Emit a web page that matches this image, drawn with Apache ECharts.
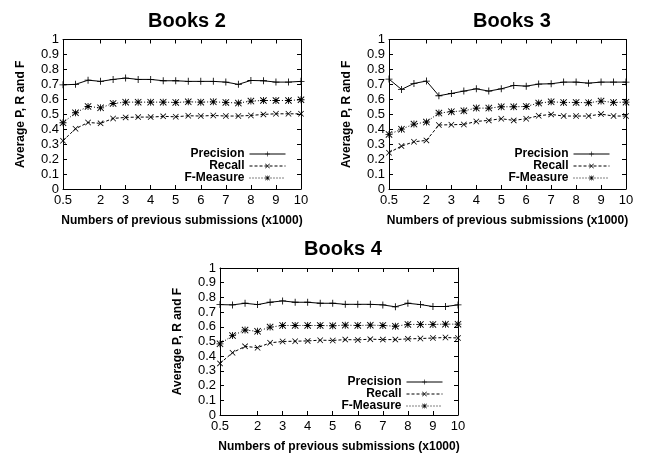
<!DOCTYPE html>
<html><head><meta charset="utf-8">
<script src="https://cdn.jsdelivr.net/npm/echarts@6/dist/echarts.min.js"></script>
<style>html,body{margin:0;padding:0;background:#fff}#c{width:647px;height:454px}</style>
</head><body><div id="c"></div>
<script>
// ---- data ----
const xValues = [0.5,1,1.5,2,2.5,3,3.5,4,4.5,5,5.5,6,6.5,7,7.5,8,8.5,9,9.5,10];
const xTickLabels = [0.5,2,3,4,5,6,7,8,9,10];
const chartTitles = ['Books 2','Books 3','Books 4'];
const seriesNames = ['Precision','Recall','F-Measure'];

const books2Precision = [0.697,0.700,0.728,0.720,0.733,0.742,0.733,0.733,0.724,0.724,0.720,0.720,0.720,0.715,0.700,0.726,0.724,0.715,0.715,0.720];
const books2Recall    = [0.323,0.403,0.445,0.439,0.472,0.479,0.481,0.481,0.486,0.483,0.490,0.488,0.492,0.488,0.488,0.492,0.499,0.503,0.503,0.503];
const books2FMeasure  = [0.443,0.510,0.552,0.543,0.572,0.581,0.581,0.581,0.581,0.579,0.583,0.581,0.583,0.579,0.575,0.588,0.592,0.592,0.592,0.597];

const books3Precision = [0.735,0.666,0.706,0.722,0.624,0.639,0.655,0.670,0.655,0.670,0.693,0.688,0.702,0.704,0.715,0.715,0.708,0.715,0.715,0.715];
const books3Recall    = [0.243,0.287,0.316,0.325,0.428,0.430,0.432,0.452,0.459,0.470,0.459,0.470,0.490,0.499,0.488,0.488,0.488,0.501,0.488,0.488];
const books3FMeasure  = [0.365,0.400,0.434,0.448,0.508,0.517,0.523,0.541,0.541,0.550,0.550,0.552,0.575,0.583,0.579,0.579,0.577,0.588,0.579,0.581];

const books4Precision = [0.751,0.749,0.760,0.751,0.767,0.776,0.767,0.767,0.760,0.760,0.753,0.753,0.753,0.749,0.736,0.760,0.751,0.738,0.738,0.749];
const books4Recall    = [0.351,0.424,0.467,0.458,0.491,0.500,0.502,0.504,0.509,0.507,0.513,0.511,0.516,0.513,0.513,0.518,0.520,0.524,0.527,0.524];
const books4FMeasure  = [0.484,0.540,0.578,0.569,0.598,0.609,0.609,0.609,0.609,0.607,0.611,0.609,0.611,0.609,0.604,0.616,0.616,0.616,0.618,0.618];

const allData = [
  [books2Precision, books2Recall, books2FMeasure],
  [books3Precision, books3Recall, books3FMeasure],
  [books4Precision, books4Recall, books4FMeasure]
];

// ---- layout ----
const grids = [
  {left:63, top:39.5, width:238, height:149.5},
  {left:389, top:39.5, width:237, height:149.5},
  {left:220, top:268, width:238, height:150}
];
const titlePos = [{x:182,y:6},{x:507,y:6},{x:338,y:234}];
const legendPos = [{right:361,top:148},{right:37,top:148},{right:204,top:376}];

const PLUS = 'path://M4.4,0H5.6V4.4H10V5.6H5.6V10H4.4V5.6H0V4.4H4.4Z';
const CROSS = 'path://M0,0.9L0.9,0L5,4.1L9.1,0L10,0.9L5.9,5L10,9.1L9.1,10L5,5.9L0.9,10L0,9.1L4.1,5Z';
const STAR = 'path://M4.4,0H5.6V4.4H10V5.6H5.6V10H4.4V5.6H0V4.4H4.4Z M0,0.9L0.9,0L5,4.1L9.1,0L10,0.9L5.9,5L10,9.1L9.1,10L5,5.9L0.9,10L0,9.1L4.1,5Z M3,3H7V7H3Z';
const symbols = [PLUS, CROSS, STAR];
const symbolSizes = [7, 6, 7];
const lineTypes = ['solid', [3,2], [1,2]];

const FONT = 'Liberation Sans, Arial, Helvetica, sans-serif';

const xAxes = [], yAxes = [], series = [], titles = [], legends = [];
grids.forEach((g, i) => {
  const common = {
    gridIndex: i, type: 'value',
    axisLine: {show: true, onZero: false, lineStyle: {color: '#000', width: 1}},
    splitLine: {show: false}
  };
  xAxes.push(Object.assign({}, common, {
    position: 'bottom', min: 0.5, max: 10,
    axisTick: {show: true, inside: true, length: 4, customValues: xTickLabels, lineStyle: {color:'#000'}},
    axisLabel: {customValues: xTickLabels, color: '#000', fontSize: 13, fontFamily: FONT, margin: 5},
    name: 'Numbers of previous submissions (x1000)', nameLocation: 'middle', nameGap: 26,
    nameTextStyle: {fontWeight: 'bold', fontSize: 12, color: '#000', fontFamily: FONT}
  }));
  xAxes.push(Object.assign({}, common, {
    position: 'top', min: 0.5, max: 10,
    axisTick: {show: true, inside: true, length: 4, customValues: xTickLabels, lineStyle: {color:'#000'}},
    axisLabel: {show: false}
  }));
  yAxes.push(Object.assign({}, common, {
    position: 'left', min: 0, max: 1, interval: 0.1,
    axisTick: {show: true, inside: true, length: 4, lineStyle: {color:'#000'}},
    axisLabel: {color: '#000', fontSize: 13, fontFamily: FONT, margin: 4},
    name: 'Average P, R and F', nameLocation: 'middle', nameGap: 36,
    nameTextStyle: {fontWeight: 'bold', fontSize: 12, color: '#000', fontFamily: FONT}
  }));
  yAxes.push(Object.assign({}, common, {
    position: 'right', min: 0, max: 1, interval: 0.1,
    axisTick: {show: true, inside: true, length: 4, lineStyle: {color:'#000'}},
    axisLabel: {show: false}
  }));
  seriesNames.forEach((name, k) => {
    series.push({
      type: 'line', name: name,
      xAxisIndex: i * 2, yAxisIndex: i * 2,
      data: xValues.map((x, j) => [x, allData[i][k][j]]),
      symbol: symbols[k], symbolSize: symbolSizes[k],
      showAllSymbol: true,
      lineStyle: {color: '#000', width: 1, type: lineTypes[k]},
      itemStyle: {color: '#000'},
      emphasis: {disabled: true},
      animation: false
    });
  });
  titles.push({
    text: chartTitles[i], left: titlePos[i].x, top: titlePos[i].y, textAlign: 'center',
    textStyle: {fontSize: 20, fontWeight: 'bold', color: '#000', fontFamily: FONT}
  });
  legends.push({
    data: seriesNames, orient: 'vertical', align: 'right',
    right: legendPos[i].right, top: legendPos[i].top, padding: 0,
    itemWidth: 36, itemHeight: 6, itemGap: 0,
    lineStyle: {width: 1},
    textStyle: {fontWeight: 'bold', fontSize: 12, color: '#000', fontFamily: FONT, lineHeight: 12},
    selectedMode: false
  });
});

const chart = echarts.init(document.getElementById('c'), null, {renderer: 'canvas'});
chart.setOption({
  animation: false,
  backgroundColor: '#fff',
  title: titles,
  legend: legends,
  grid: grids,
  xAxis: xAxes,
  yAxis: yAxes,
  series: series
});
</script>
</body></html>
